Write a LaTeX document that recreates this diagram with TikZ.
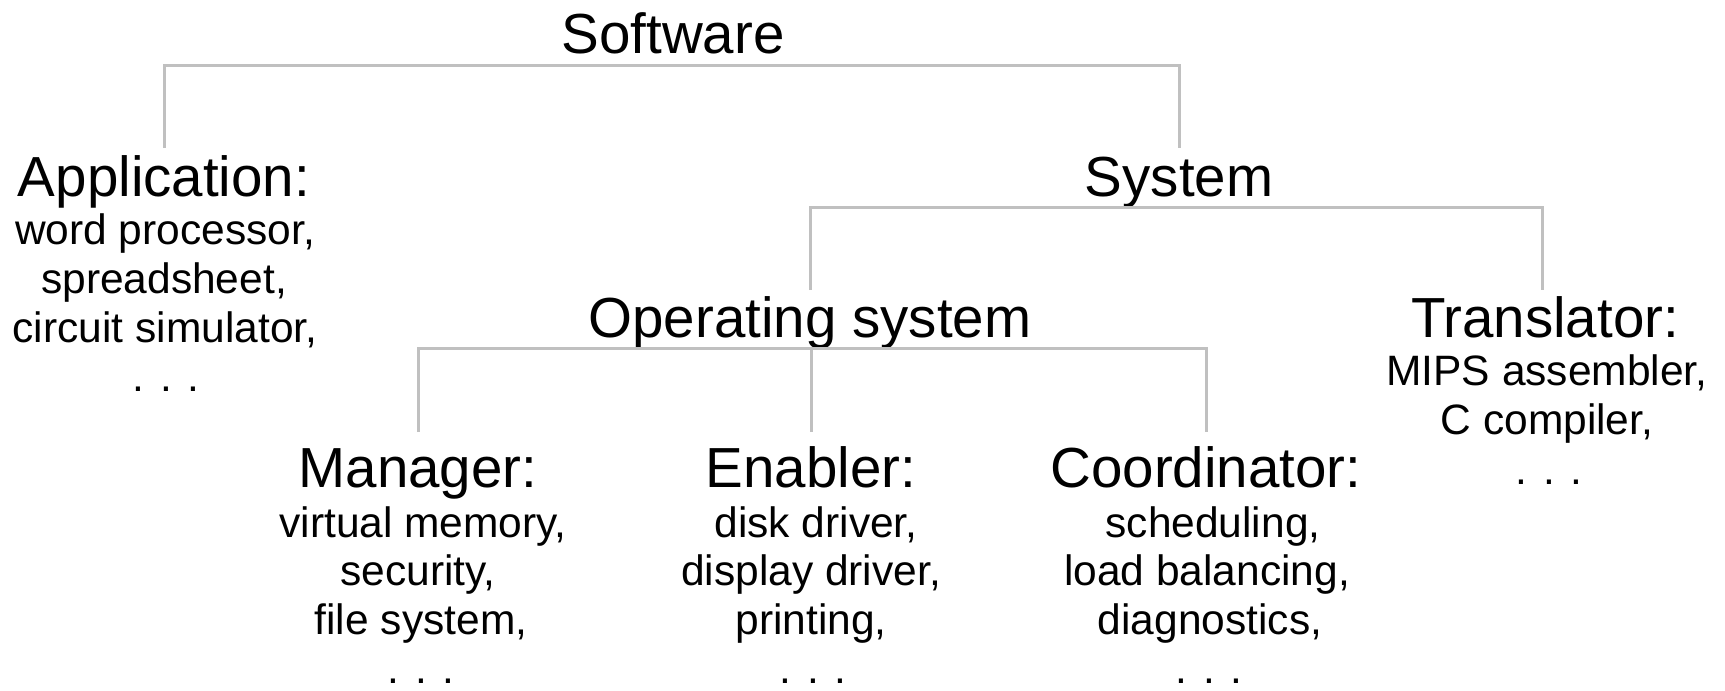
\documentclass[tikz,border=0pt]{standalone}
\usepackage{fontspec}
\setmainfont{Liberation Sans}
\definecolor{linegray}{RGB}{192,192,192}
\begin{document}
\begin{tikzpicture}[x=1pt,y=-1pt,
  head/.style={font=\fontsize{56.5}{60}\selectfont, inner sep=0pt, anchor=base},
  item/.style={font=\fontsize{42.5}{48}\selectfont, inner sep=0pt, anchor=base},
  link/.style={draw=linegray, line width=3pt, line join=miter}]
\useasboundingbox (0,0) rectangle (1725,691);
% headings
\node[head] (sw)  at (673,53)  {Software};
\node[head] (app) at (164,196) {Application:};
\node[head] (sys) at (1179,196) {System};
\node[head] (os)  at (810,337) {Operating system};
\node[head] (tr)  at (1545,337) {Translator:};
\node[head] (man) at (418,487) {Manager:};
\node[head] (ena) at (811,487) {Enabler:};
\node[head] (coo) at (1206,487) {Coordinator:};
% items
\node[item] (app1) at (165,244) {word processor,};
\node[item] (app2) at (164,293) {spreadsheet,};
\node[item] (app3) at (165,342) {circuit simulator,};
\node[item] (app4) at (166,391) {. . .};
\node[item] (tr1) at (1547,385) {MIPS assembler,};
\node[item] (tr2) at (1547,434) {C compiler,};
\node[item] (tr3) at (1549,484) {. . .};
\node[item] (man1) at (423,537) {virtual memory,};
\node[item] (man2) at (418,585) {security,};
\node[item] (man3) at (421,634) {file system,};
\node[item] (man4) at (421,683) {. . .};
\node[item] (ena1) at (816,537) {disk driver,};
\node[item] (ena2) at (811,585) {display driver,};
\node[item] (ena3) at (811,634) {printing,};
\node[item] (ena4) at (813,683) {. . .};
\node[item] (coo1) at (1213,537) {scheduling,};
\node[item] (coo2) at (1207,585) {load balancing,};
\node[item] (coo3) at (1210,634) {diagnostics,};
\node[item] (coo4) at (1209,683) {. . .};
% bars
\coordinate (swbar)  at (673,65);
\coordinate (sysbar) at (1179,207);
\coordinate (osbar)  at (811,348);
% connectors
\draw[link] ([yshift=48pt]app.base) |- (swbar) -| ([yshift=48pt]sys.base);
\draw[link] ([yshift=47pt]os.base) |- (sysbar) -| ([yshift=47pt,xshift=-3pt]tr.base);
\draw[link] ([yshift=55pt]man.base) |- (osbar) -| ([yshift=55pt]coo.base);
\draw[link] (osbar) -- ([yshift=55pt]ena.base);
\end{tikzpicture}
\end{document}
